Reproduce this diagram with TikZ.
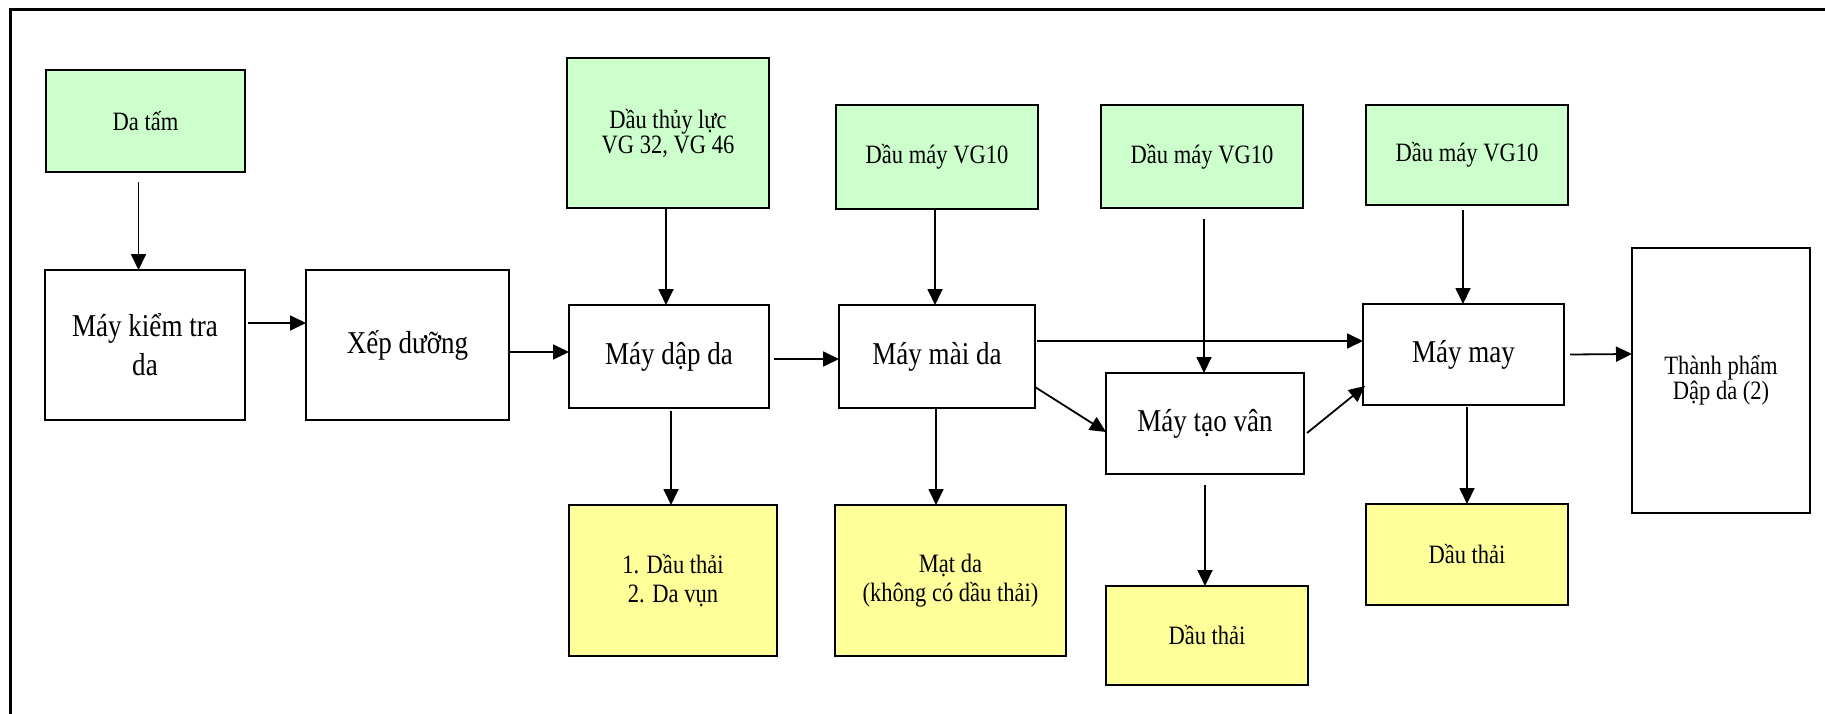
\documentclass[tikz,border=0pt]{standalone}
\usepackage{fontspec}
\setmainfont{Liberation Serif}[FakeStretch=0.85]
\usetikzlibrary{arrows.meta,calc}
\definecolor{gfill}{HTML}{CCFFCC}
\definecolor{yfill}{HTML}{FFFF99}
\newcommand\bigf{\fontsize{31.8}{39}\selectfont}
\newcommand\smf{\fontsize{26.5}{29}\selectfont}
\tikzset{
  box/.style={draw, line width=1.9pt, inner sep=0pt, outer sep=0pt, align=center},
  wbox/.style={box, fill=white, font=\bigf},
  gbox/.style={box, fill=gfill, font=\smf},
  ybox/.style={box, fill=yfill, font=\smf},
  arr/.style={line width=1.8pt, -{Triangle[length=16pt,width=15pt]}},
}
\begin{document}
\begin{tikzpicture}[x=1pt,y=-1pt]
\useasboundingbox (0,0) rectangle (1825,714);
\clip (0,0) rectangle (1825,714);
\draw[line width=3pt] (10.5,10) rectangle (1845,740);
% input boxes
\node[gbox, minimum width=199pt, minimum height=102pt] (datam) at (145.5,121) {Da tấm};
\node[gbox, minimum width=202pt, minimum height=150pt, font=\fontsize{26.5}{25}\selectfont] (tl) at (668,133) {Dầu thủy lực\\VG 32, VG 46};
\node[gbox, minimum width=202pt, minimum height=104pt] (vg1) at (937,157) {Dầu máy VG10};
\node[gbox, minimum width=202pt, minimum height=103pt] (vg2) at (1202,156.5) {Dầu máy VG10};
\node[gbox, minimum width=202pt, minimum height=100pt] (vg3) at (1467,155) {Dầu máy VG10};
% process boxes
\node[wbox, minimum width=200pt, minimum height=150pt] (kt) at (145,345) {Máy kiểm tra\\da};
\node[wbox, minimum width=203pt, minimum height=150pt] (xd) at (407.5,345) {Xếp dưỡng};
\node[wbox, minimum width=200pt, minimum height=103pt] (dap) at (669,356.5) {Máy dập da};
\node[wbox, minimum width=196pt, minimum height=103pt] (mai) at (937,356.5) {Máy mài da};
\node[wbox, minimum width=198pt, minimum height=101pt] (tao) at (1205,423.5) {Máy tạo vân};
\node[wbox, minimum width=201pt, minimum height=101pt] (may) at (1463.5,354.5) {Máy may};
\node[box, fill=white, font=\fontsize{26.5}{25}\selectfont, minimum width=178pt, minimum height=265pt] (tp) at (1721,380.5) {Thành phẩm\\Dập da (2)};
% output boxes
\node[ybox, minimum width=208pt, minimum height=151pt] (dt1) at (673,580.5) {1. Dầu thải\\2. Da vụn};
\node[ybox, minimum width=231pt, minimum height=151pt] (mat) at (950.5,580.5) {Mạt da\\(không có dầu thải)};
\node[ybox, minimum width=202pt, minimum height=99pt] (dt3) at (1207,635.5) {Dầu thải};
\node[ybox, minimum width=202pt, minimum height=101pt] (dt4) at (1467,554.5) {Dầu thải};
% connectors
\draw[arr] ($(datam.south)+(-7,10)$) -- ($(kt.north)+(-6.5,0)$);
\draw[arr] ($(kt.east)+(3,-22)$) -- ($(xd.west)+(0,-22)$);
\draw[arr] ($(xd.east)+(0,7)$) -- ($(dap.west)+(0,-4.5)$);
\draw[arr] ($(tl.south)+(-2,0)$) -- ($(dap.north)+(-3,0)$);
\draw[arr] ($(dap.south)+(2,3)$) -- ($(dt1.north)+(-2,0)$);
\draw[arr] ($(dap.east)+(5,2.5)$) -- ($(mai.west)+(0,2.5)$);
\draw[arr] ($(vg1.south)+(-2,0)$) -- ($(mai.north)+(-2,0)$);
\draw[arr] ($(mai.south)+(-1,1)$) -- ($(mat.north)+(-14.5,0)$);
\draw[arr] ($(mai.east)+(2,-15.5)$) -- ($(may.west)+(0,-13.5)$);
\draw[arr] ($(mai.east)+(0,30.5)$) -- ($(tao.west)+(0,8.5)$);
\draw[arr] ($(vg2.south)+(2,11)$) -- ($(tao.north)+(-1,0)$);
\draw[arr] ($(tao.south)+(0,11)$) -- ($(dt3.north)+(-2,0)$);
\draw[arr] ($(tao.east)+(3,9.5)$) -- ($(may.west)+(2,31.5)$);
\draw[arr] ($(vg3.south)+(-4,5)$) -- ($(may.north)+(-0.5,0)$);
\draw[arr] ($(may.south)+(3.5,2)$) -- (dt4.north);
\draw[arr] ($(may.east)+(6,0)$) -- ($(tp.west)+(0,-26.5)$);
\end{tikzpicture}
\end{document}
